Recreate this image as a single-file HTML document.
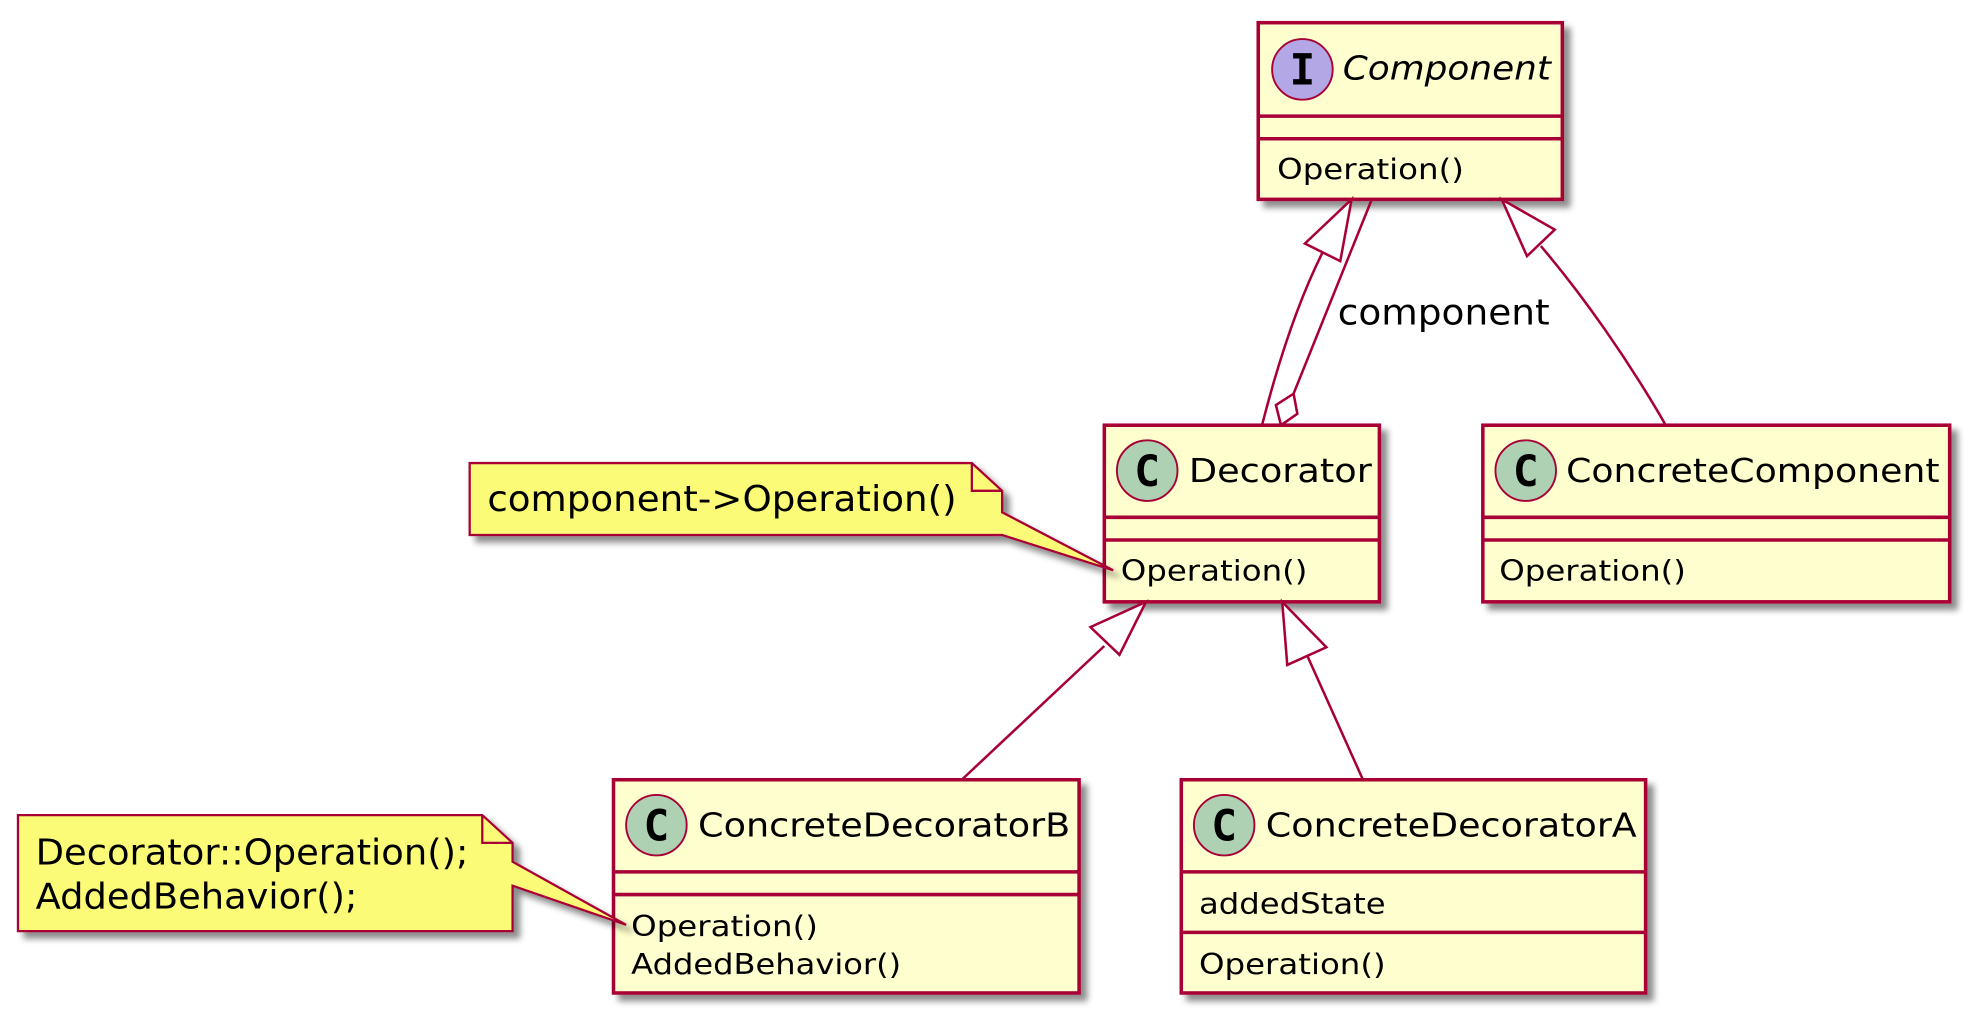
<!DOCTYPE html>
<html><head><meta charset="utf-8"><style>html,body{margin:0;padding:0;background:#fff}svg{display:block}</style></head>
<body>
<svg width="1979" height="1022" viewBox="0 0 1568 810" xmlns="http://www.w3.org/2000/svg" font-family="DejaVu Sans, Liberation Sans, sans-serif">
<defs>
<filter id="sh" x="-10%" y="-10%" width="130%" height="130%">
<feGaussianBlur in="SourceAlpha" stdDeviation="2.5"/>
<feOffset dx="5" dy="5" result="b"/>
<feFlood flood-color="#000" flood-opacity="0.45"/>
<feComposite in2="b" operator="in" result="s"/>
<feMerge><feMergeNode in="s"/><feMergeNode in="SourceGraphic"/></feMerge>
</filter>
</defs>
<g stroke="#A80036" stroke-width="2.8" fill="#FEFECE">
<rect x="997" y="18" width="241" height="140" filter="url(#sh)"/>
<rect x="875" y="337" width="218" height="140" filter="url(#sh)"/>
<rect x="1175" y="337" width="370" height="140" filter="url(#sh)"/>
<rect x="486" y="618" width="369" height="169" filter="url(#sh)"/>
<rect x="936" y="618" width="368" height="169" filter="url(#sh)"/>
<path d="M997 92H1238M997 110H1238M875 410H1093M875 428H1093M1175 410H1545M1175 428H1545M486 691H855M486 709H855M936 691H1304M936 739H1304" fill="none"/>
</g>
<g stroke="#A80036" stroke-width="1.5">
<circle cx="1032" cy="55" r="24" fill="#B4A7E5"/>
<circle cx="909" cy="373" r="24" fill="#ADD1B2"/>
<circle cx="1209" cy="373" r="24" fill="#ADD1B2"/>
<circle cx="520" cy="654" r="24" fill="#ADD1B2"/>
<circle cx="970" cy="654" r="24" fill="#ADD1B2"/>
</g>
<g font-weight="bold" font-size="34" text-anchor="middle" fill="#000" font-family="DejaVu Sans Mono, Liberation Mono, monospace">
<text x="1032" y="67">I</text>
<text x="909" y="385">C</text>
<text x="1209" y="385">C</text>
<text x="520" y="666">C</text>
<text x="970" y="666">C</text>
</g>
<g font-size="26" fill="#000">
<text x="1064" y="63" font-style="italic" textLength="165" lengthAdjust="spacingAndGlyphs">Component</text>
<text x="942" y="382" textLength="145" lengthAdjust="spacingAndGlyphs">Decorator</text>
<text x="1241" y="382" textLength="296" lengthAdjust="spacingAndGlyphs">ConcreteComponent</text>
<text x="553" y="663" textLength="295" lengthAdjust="spacingAndGlyphs">ConcreteDecoratorB</text>
<text x="1003" y="663" textLength="294" lengthAdjust="spacingAndGlyphs">ConcreteDecoratorA</text>
</g>
<g font-size="22.5" fill="#000">
<text x="1012" y="142" textLength="148" lengthAdjust="spacingAndGlyphs">Operation()</text>
<text x="888" y="460" textLength="148" lengthAdjust="spacingAndGlyphs">Operation()</text>
<text x="1188" y="460" textLength="148" lengthAdjust="spacingAndGlyphs">Operation()</text>
<text x="500" y="742" textLength="148" lengthAdjust="spacingAndGlyphs">Operation()</text>
<text x="500" y="772" textLength="214" lengthAdjust="spacingAndGlyphs">AddedBehavior()</text>
<text x="950" y="724" textLength="148" lengthAdjust="spacingAndGlyphs">addedState</text>
<text x="950" y="772" textLength="148" lengthAdjust="spacingAndGlyphs">Operation()</text>
</g>
<g stroke="#A80036" stroke-width="1.8" fill="#FBFB77">
<path d="M372 367H770L794 389V406L882 452L794 424V424H372Z" filter="url(#sh)"/>
<path d="M770 367V389H794" fill="none"/>
<path d="M14 646H382L406 668V683L496 733L406 702V738H14Z" filter="url(#sh)"/>
<path d="M382 646V668H406" fill="none"/>
</g>
<g font-size="28" fill="#000">
<text x="386" y="405" textLength="372" lengthAdjust="spacingAndGlyphs">component-&gt;Operation()</text>
<text x="28" y="685" textLength="343" lengthAdjust="spacingAndGlyphs">Decorator::Operation();</text>
<text x="28" y="720" textLength="255" lengthAdjust="spacingAndGlyphs">AddedBehavior();</text>
</g>
<g stroke="#A80036" stroke-width="2" fill="none">
<path d="M1000 337C1012 290 1028 240 1048 200"/>
<path d="M1087 158L1025 312"/>
<path d="M1320 337C1290 285 1255 235 1221 195"/>
<path d="M762 618L875 512"/>
<path d="M1080 618L1036 520"/>
</g>
<g stroke="#A80036" stroke-width="2" fill="#fff">
<polygon points="1071,158 1062,207 1034,193"/>
<polygon points="1015,337 1028,328 1025,312 1011,321"/>
<polygon points="1190,158 1232,182 1210,203"/>
<polygon points="908,477 887,519 864,497"/>
<polygon points="1016,477 1051,513 1020,527"/>
</g>
<text x="1060" y="257" font-size="28" fill="#000" textLength="168" lengthAdjust="spacingAndGlyphs">component</text>
</svg>
</body></html>
